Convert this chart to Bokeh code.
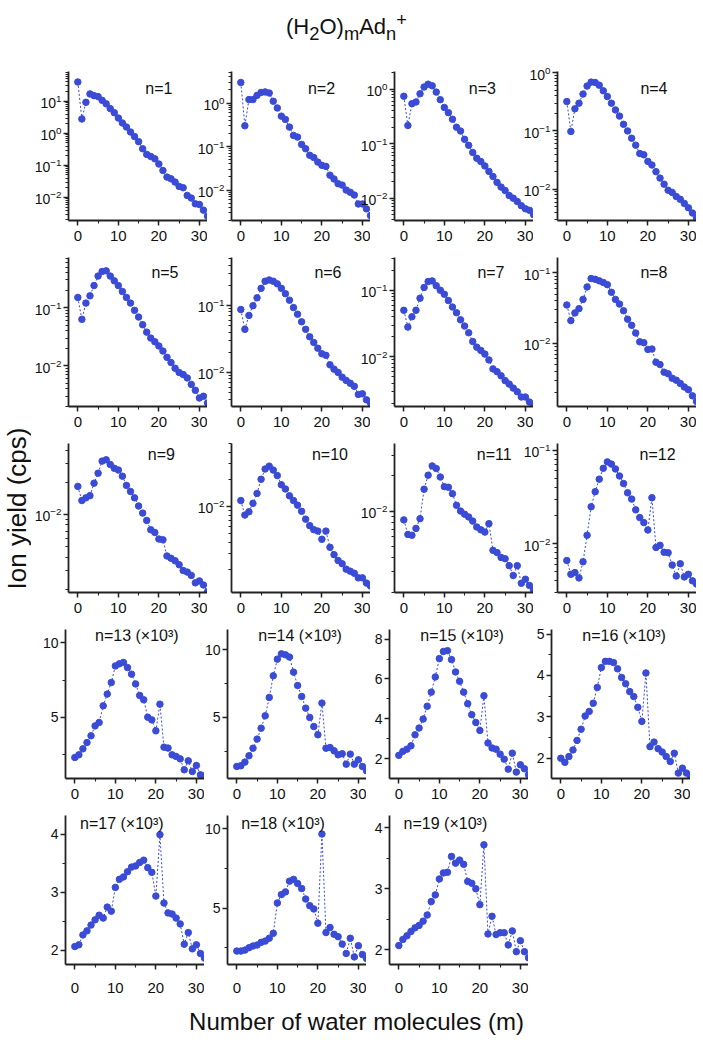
import math
from bokeh.plotting import figure
from bokeh.models import Range1d, FixedTicker, SingleIntervalTicker, Label, Div, ColumnDataSource
from bokeh.layouts import row, column
from bokeh.embed import file_html
from bokeh.resources import INLINE
from bokeh.core.properties import value

# ---------------- data ----------------
m_values = list(range(33))

y_n1 = [40, 2.8, 9.3, 17, 15, 14, 10.7, 8.3, 5.9, 4.4, 3.0, 2.1, 1.57, 1.1, 0.79, 0.55, 0.33, 0.22, 0.19, 0.16,
        0.11, 0.069, 0.043, 0.038, 0.030, 0.022, 0.020, 0.0115, 0.0095, 0.0063, 0.0060, 0.0040, 0.0026]
y_n2 = [2.96, 0.30, 1.2, 1.2, 1.5, 1.75, 1.8, 1.7, 1.1, 0.77, 0.50, 0.42, 0.28, 0.18, 0.165, 0.112, 0.089, 0.063,
        0.056, 0.044, 0.037, 0.035, 0.022, 0.018, 0.014, 0.013, 0.010, 0.0089, 0.0077, 0.0048, 0.0048, 0.0037, 0.0026]
y_n3 = [0.74, 0.215, 0.54, 0.58, 0.82, 1.09, 1.23, 1.15, 0.88, 0.64, 0.46, 0.37, 0.28, 0.20, 0.17, 0.12, 0.093,
        0.069, 0.054, 0.047, 0.039, 0.031, 0.025, 0.0195, 0.016, 0.0138, 0.0112, 0.010, 0.0087, 0.0073, 0.0064, 0.006, 0.005]
y_n4 = [0.32, 0.098, 0.24, 0.30, 0.43, 0.59, 0.69, 0.68, 0.61, 0.49, 0.39, 0.30, 0.23, 0.18, 0.13, 0.10, 0.075,
        0.057, 0.041, 0.039, 0.030, 0.026, 0.020, 0.0155, 0.0122, 0.0096, 0.0088, 0.0075, 0.0067, 0.0057, 0.0048, 0.0039, 0.0032]
y_n5 = [0.15, 0.063, 0.12, 0.16, 0.24, 0.35, 0.42, 0.43, 0.35, 0.29, 0.24, 0.19, 0.15, 0.12, 0.090, 0.069, 0.051,
        0.038, 0.030, 0.026, 0.022, 0.018, 0.014, 0.0114, 0.0091, 0.0077, 0.0071, 0.0062, 0.0048, 0.0038, 0.0028, 0.0030, 0.0023]
y_n6 = [0.087, 0.044, 0.071, 0.099, 0.13, 0.18, 0.23, 0.24, 0.23, 0.21, 0.18, 0.15, 0.12, 0.093, 0.074, 0.057, 0.044,
        0.034, 0.028, 0.023, 0.019, 0.018, 0.013, 0.0112, 0.010, 0.0085, 0.0076, 0.0069, 0.0062, 0.0047, 0.0048, 0.0039, 0.0035]
y_n7 = [0.050, 0.028, 0.040, 0.050, 0.076, 0.11, 0.135, 0.138, 0.117, 0.10, 0.087, 0.070, 0.056, 0.046, 0.036, 0.029,
        0.023, 0.017, 0.014, 0.0125, 0.011, 0.009, 0.0066, 0.006, 0.0052, 0.0044, 0.0039, 0.0034, 0.0030, 0.0025, 0.0025, 0.0021, 0.0018]
y_n8 = [0.035, 0.021, 0.027, 0.031, 0.042, 0.063, 0.083, 0.081, 0.077, 0.073, 0.068, 0.053, 0.042, 0.036, 0.029, 0.022,
        0.018, 0.014, 0.0105, 0.0102, 0.0082, 0.0083, 0.0054, 0.0050, 0.0039, 0.0037, 0.0032, 0.0030, 0.0027, 0.0024, 0.0022, 0.0018, 0.0015]
y_n9 = [0.0183, 0.0135, 0.0143, 0.0150, 0.0196, 0.0243, 0.0315, 0.0324, 0.0293, 0.027, 0.026, 0.0228, 0.0187, 0.0164,
        0.0143, 0.0120, 0.0103, 0.0088, 0.0072, 0.0068, 0.0059, 0.0058, 0.0041, 0.0039, 0.0037, 0.0034, 0.0030, 0.0029,
        0.0027, 0.0023, 0.0024, 0.0022, 0.0019]
y_n10 = [0.0116, 0.0080, 0.0087, 0.0108, 0.0139, 0.020, 0.026, 0.028, 0.0253, 0.022, 0.0174, 0.0156, 0.0131, 0.0116,
         0.0103, 0.0088, 0.0072, 0.0061, 0.0055, 0.0053, 0.0043, 0.0053, 0.0035, 0.0029, 0.0025, 0.0023, 0.0020, 0.0019,
         0.0018, 0.0016, 0.0016, 0.0014, 0.0013]
y_n11 = [0.0084, 0.0063, 0.0062, 0.0071, 0.0086, 0.0154, 0.0203, 0.0244, 0.0232, 0.0196, 0.0162, 0.016, 0.0141, 0.0112,
         0.010, 0.0094, 0.0089, 0.0082, 0.0073, 0.0069, 0.0066, 0.0078, 0.0046, 0.0044, 0.0040, 0.0039, 0.0034, 0.0028,
         0.0034, 0.0024, 0.0026, 0.0023, 0.0021]
y_n12 = [0.0066, 0.0047, 0.0049, 0.0043, 0.0064, 0.0123, 0.0248, 0.036, 0.049, 0.064, 0.075, 0.071, 0.063, 0.053, 0.044,
         0.035, 0.030, 0.023, 0.019, 0.0168, 0.014, 0.031, 0.0091, 0.0096, 0.0081, 0.0080, 0.0059, 0.0045, 0.0061, 0.0044,
         0.0047, 0.0040, 0.0037]
y_n13 = [2.33, 2.51, 2.91, 3.33, 3.78, 4.44, 4.67, 5.78, 6.56, 7.33, 8.44, 8.58, 8.67, 8.33, 7.89, 7.24, 6.47, 6.18,
         5.02, 4.84, 4.11, 5.89, 3.02, 2.96, 2.51, 2.40, 2.24, 1.51, 2.11, 1.40, 1.80, 1.18, 1.11]
y_n14 = [1.38, 1.43, 1.70, 2.17, 2.73, 3.40, 4.21, 5.12, 6.48, 8.08, 9.31, 9.70, 9.63, 9.46, 8.35, 7.36, 6.55, 5.69,
         5.0, 4.33, 3.72, 6.06, 2.73, 2.78, 2.54, 2.24, 2.32, 1.55, 2.29, 1.55, 1.87, 1.38, 1.06]
y_n15 = [2.17, 2.37, 2.48, 2.65, 3.20, 3.54, 3.99, 4.63, 5.34, 6.10, 7.02, 7.38, 7.42, 6.97, 6.35, 5.88, 5.34, 4.76,
         4.21, 3.82, 3.42, 5.16, 2.79, 2.54, 2.48, 2.23, 1.98, 1.48, 2.28, 1.33, 1.70, 1.50, 1.20]
y_n16 = [2.0, 1.90, 2.04, 2.20, 2.43, 2.70, 3.02, 3.13, 3.33, 3.71, 4.19, 4.34, 4.34, 4.31, 4.16, 3.95, 3.80, 3.61,
         3.49, 3.23, 2.89, 4.06, 2.28, 2.39, 2.23, 2.15, 2.04, 1.92, 2.12, 1.64, 1.76, 1.64, 1.56]
y_n17 = [2.06, 2.09, 2.26, 2.33, 2.43, 2.52, 2.60, 2.55, 2.74, 2.67, 3.08, 3.22, 3.26, 3.35, 3.43, 3.45, 3.51, 3.55,
         3.42, 3.34, 2.93, 3.99, 2.81, 2.64, 2.62, 2.55, 2.45, 2.10, 2.30, 2.02, 2.09, 1.94, 1.86]
y_n18 = [2.28, 2.28, 2.34, 2.49, 2.60, 2.66, 2.83, 2.91, 3.09, 3.40, 5.32, 5.85, 6.02, 6.70, 6.81, 6.55, 6.23, 5.57,
         5.15, 4.94, 4.04, 9.68, 3.45, 3.77, 3.34, 3.19, 2.72, 2.13, 3.09, 1.91, 2.62, 2.06, 1.81]
y_n19 = [2.07, 2.17, 2.23, 2.30, 2.36, 2.40, 2.47, 2.57, 2.79, 2.90, 3.16, 3.26, 3.27, 3.53, 3.42, 3.47, 3.40, 3.12,
         3.09, 3.0, 2.74, 3.72, 2.26, 2.55, 2.25, 2.28, 2.28, 2.08, 2.31, 1.97, 2.15, 1.97, 1.87]

series = [y_n1, y_n2, y_n3, y_n4, y_n5, y_n6, y_n7, y_n8, y_n9, y_n10,
          y_n11, y_n12, y_n13, y_n14, y_n15, y_n16, y_n17, y_n18, y_n19]

panel_labels = ["n=1", "n=2", "n=3", "n=4", "n=5", "n=6", "n=7", "n=8", "n=9", "n=10", "n=11", "n=12",
                "n=13 (\u00d710\u00b3)", "n=14 (\u00d710\u00b3)", "n=15 (\u00d710\u00b3)", "n=16 (\u00d710\u00b3)",
                "n=17 (\u00d710\u00b3)", "n=18 (\u00d710\u00b3)", "n=19 (\u00d710\u00b3)"]

# ---------------- axis / layout settings ----------------
panel_is_log = [True] * 12 + [False] * 7
y_limits = [(0.0019, 85), (0.002, 5.3), (0.0039, 2.1), (0.0029, 1.05),
            (0.002, 0.73), (0.0031, 0.52), (0.0018, 0.31), (0.00127, 0.165),
            (0.00187, 0.046), (0.0011, 0.050), (0.0020, 0.038), (0.0030, 0.118),
            (0.93, 10.87), (0.49, 11.5), (1.01, 8.48), (1.51, 5.11),
            (1.75, 4.32), (1.43, 10.85), (1.76, 4.20)]
lin_tick_interval = {12: 5, 13: 5, 14: 2, 15: 1, 16: 1, 17: 5, 18: 1}
label_x = [20, 19.9, 19.4, 21.5, 21.5, 21.5, 21.5, 21.5, 20.6, 22, 22.3, 22.4,
           15.3, 15.6, 15.6, 15.6, 11.6, 11.4, 11.5]
label_frac_by_row = [0.886, 0.90, 0.928, 0.96, 0.946]

BLUE = "#3a4bd6"
AXIS = "#222222"
FONT = "Liberation Sans"
FRAME_W, FRAME_H = 139, 149
LEFT_B_FIRST = 34
LEFT_B = 36
OVERLAP = 13
TOP_B = 10
BOT_B = 27
BOT_B_LAST = 35
YLAB_W = 31


def log_ticker(lo, hi):
    majors = [10.0 ** e for e in range(-4, 3) if lo <= 10.0 ** e <= hi]
    minors = [k * 10.0 ** e for e in range(-4, 3) for k in range(2, 10) if lo <= k * 10.0 ** e <= hi]
    return FixedTicker(ticks=majors, minor_ticks=minors)


def make_panel(i, r, c):
    lo, hi = y_limits[i]
    is_log = panel_is_log[i]
    last_row = (r == 4)
    p = figure(frame_width=FRAME_W, frame_height=FRAME_H,
               x_range=Range1d(-2.3, 32), y_range=Range1d(lo, hi),
               y_axis_type="log" if is_log else "linear",
               output_backend="svg", toolbar_location=None,
               min_border_left=LEFT_B_FIRST if c == 0 else LEFT_B, min_border_right=0,
               min_border_top=TOP_B,
               min_border_bottom=BOT_B_LAST if last_row else BOT_B)
    p.outline_line_color = None
    p.background_fill_alpha = 0
    p.border_fill_alpha = 0
    p.xgrid.visible = False
    p.ygrid.visible = False
    if c > 0:
        p.margin = (0, 0, 0, -OVERLAP)

    src = ColumnDataSource(dict(m=m_values, v=series[i]))
    p.line("m", "v", source=src, line_color=BLUE, line_width=1, line_dash="2 2")
    p.scatter("m", "v", source=src, size=6.5, fill_color=BLUE, line_color=BLUE)

    p.xaxis.ticker = SingleIntervalTicker(interval=10, num_minor_ticks=2)
    if is_log:
        p.yaxis.ticker = log_ticker(lo, hi)
    else:
        p.yaxis.ticker = SingleIntervalTicker(interval=lin_tick_interval[i], num_minor_ticks=2)

    for ax in (p.xaxis[0], p.yaxis[0]):
        ax.axis_line_color = AXIS
        ax.axis_line_width = 1.8
        ax.major_tick_line_color = AXIS
        ax.major_tick_line_width = 1.5
        ax.minor_tick_line_color = AXIS
        ax.minor_tick_line_width = 1.1
        ax.major_tick_in = 0
        ax.major_tick_out = 5
        ax.minor_tick_in = 0
        ax.minor_tick_out = 3
        ax.major_label_text_font = FONT
        ax.major_label_text_color = "#111111"
    p.xaxis.major_label_text_font_size = "15px"
    p.xaxis.major_label_standoff = 13 if last_row else 5
    p.yaxis.major_label_text_font_size = "14px"
    p.yaxis.major_label_standoff = 2

    f = label_frac_by_row[r]
    if is_log:
        ly = 10 ** (math.log10(lo) + f * (math.log10(hi) - math.log10(lo)))
    else:
        ly = lo + f * (hi - lo)
    p.add_layout(Label(x=label_x[i], y=ly, text=panel_labels[i], text_font=FONT,
                       text_font_size="16px", text_color="#111111",
                       text_align="center", text_baseline="middle"))
    return p


rows = []
idx = 0
for r in range(5):
    figs = []
    for c in range(4):
        if idx >= len(series):
            break
        figs.append(make_panel(idx, r, c))
        idx += 1
    rows.append(row(*figs))
grid = column(*rows)

GRID_H = 4 * (TOP_B + FRAME_H + BOT_B) + (TOP_B + FRAME_H + BOT_B_LAST)
ylab = figure(width=YLAB_W, height=GRID_H, x_range=Range1d(0, YLAB_W), y_range=Range1d(0, GRID_H),
              output_backend="svg", toolbar_location=None, min_border=0)
ylab.outline_line_color = None
ylab.axis.visible = False
ylab.xgrid.visible = False
ylab.ygrid.visible = False
ylab.text(x=[16], y=[GRID_H - 447], text=["Ion yield (cps)"], angle=math.pi / 2,
          text_font=value(FONT), text_font_size=value("26px"), text_color="#111111",
          text_align="center", text_baseline="middle")

title = Div(text='<div style="font-family: \'Liberation Sans\', Arial, sans-serif; font-size: 22px; '
                 'color:#111; text-align:center; width:687px; padding-top:7px; padding-left:6px; '
                 'box-sizing:border-box;">'
                 '(H<sub>2</sub>O)<sub>m</sub>Ad<sub>n</sub><sup>+</sup></div>',
            width=687, height=61, margin=0)
xlab = Div(text='<div style="font-family: \'Liberation Sans\', Arial, sans-serif; font-size: 24px; '
                'color:#111; text-align:center; width:687px; box-sizing:border-box; padding-left:26px; '
                'padding-top:6px;">Number of water molecules (m)</div>',
           width=687, height=40, margin=0)

layout = column(title, row(ylab, grid), xlab)

open("out.html", "w").write(file_html(layout, INLINE))
